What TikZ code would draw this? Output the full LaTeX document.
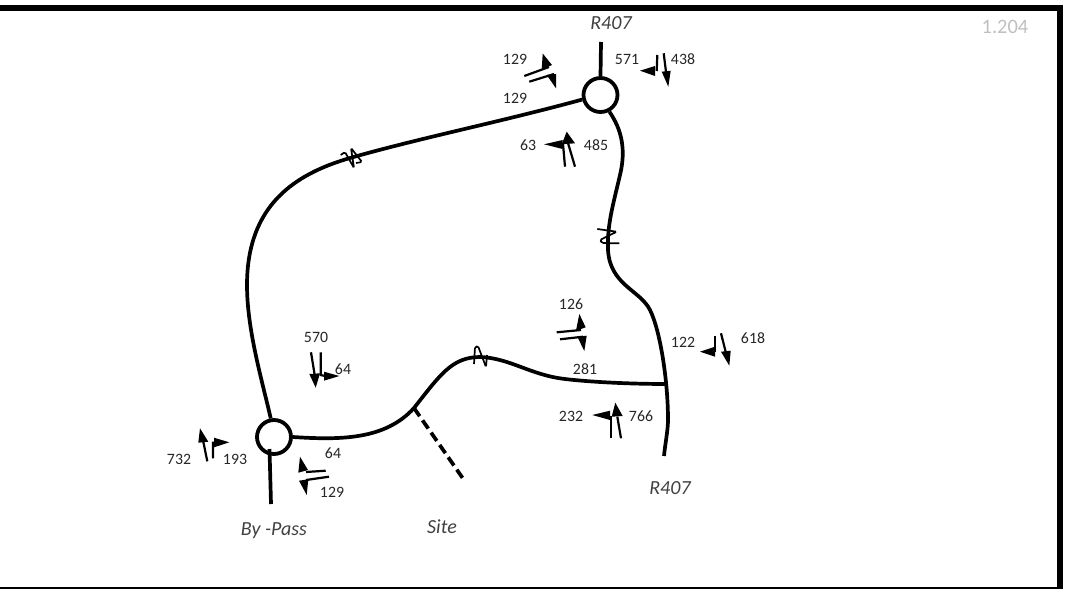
\documentclass[tikz,border=0pt]{standalone}
\usepackage{fontspec}
\setmainfont{Carlito}
\usepackage{tikz}

\tikzset{
    road/.style={line width=3.7pt},
    stub/.style={line width=3.7pt},
    shaft/.style={line width=2.2pt},
    brk/.style={line width=1.7pt, rounded corners=1.5pt},
    rabout/.style={draw, circle, line width=3.8pt, minimum size=34pt, inner sep=0pt},
    count/.style={font=\fontsize{15.8}{16}\selectfont, text=black!85, inner sep=0pt},
    place/.style={font=\fontsize{20}{20}\selectfont\itshape, text=black!75, inner sep=0pt}
}

\begin{document}
\begin{tikzpicture}[x=1pt,y=-1pt]
    \useasboundingbox (0,0) rectangle (1067,589);
    % frame
    \draw[line width=6pt] (0,8) -- (1063,8);
    \draw[line width=6pt] (1060,5) -- (1060,589);
    \draw[line width=2pt] (0,588) -- (1060,588);
    \node[font=\fontsize{20.5}{20}\selectfont, text=black!25, inner sep=0pt] (sheetno) at (1005,27) {1.204};

    % roundabouts and road ends
    \node[rabout] (rbtop) at (600.5,95) {};
    \node[rabout] (rbbot) at (274,437) {};
    \coordinate (northend) at (601,42);
    \coordinate (southend) at (664,456);
    \coordinate (bypassin) at (269.5,449);
    \coordinate (bypassend) at (271,504);
    \coordinate (sitein) at (414,408);
    \coordinate (siteend) at (464,480);
    \coordinate (tee) at (667,384);

    % roads
    \draw[stub] (rbtop.north) -- (northend);
    \draw[stub] (bypassin) -- (bypassend);
    \draw[road] (rbtop.194) .. controls (500,122) and (420,138) .. (350,158)
        .. controls (295,174) and (247,205) .. (247,285)
        .. controls (247,330) and (262,380) .. (rbbot.100);
    \draw[road] (rbtop.-62) .. controls (622,130) and (626,150) .. (620,175)
        .. controls (613,205) and (607,225) .. (608,250)
        .. controls (610,285) and (640,290) .. (650,310)
        .. controls (660,330) and (668,380) .. (668,420)
        .. controls (668,430) and (665,445) .. (southend);
    \draw[road] (rbbot.east) .. controls (340,440) and (385,440) .. (sitein)
        .. controls (440,375) and (452,357) .. (480,357)
        .. controls (510,358) and (530,375) .. (565,379)
        .. controls (590,382) and (630,384) .. (tee);
    \draw[road, dash pattern=on 10pt off 5pt] (sitein) -- (siteend);

    % road breaks
    \draw[brk] (340.7,155) -- (345,152) -- (354,168) -- (351,148) -- (362,162) -- (356,163);
    \draw[brk] (597.3,229) -- (616.7,231.7) -- (600,240) -- (602,243) -- (619.3,243.3);
    \draw[brk] (474,364) -- (475,347) -- (478,346) -- (486,367) -- (487,355);

    % turning flows, top roundabout
    \draw[shaft] (524.3,76) -- (549,67);
    \fill (542.7,53.5) -- (552,65) -- (541.7,69.5) -- cycle;
    \draw[shaft] (529.3,81.7) -- (554,74);
    \fill (546.7,75) -- (556,74) -- (556,88.3) -- cycle;
    \draw[shaft] (657.3,55) -- (656.7,71);
    \fill (640,70.7) -- (655,66) -- (655,76) -- cycle;
    \draw[shaft] (663.7,53.3) -- (666,72);
    \fill (661.7,71.7) -- (670.7,70.7) -- (668.3,86.7) -- cycle;
    \draw[shaft] (575,166.7) -- (568,143);
    \fill (566.7,131.7) -- (561.7,144.3) -- (575,143.3) -- cycle;
    \draw[shaft] (565,166.7) -- (563,144);
    \fill (544,144.3) -- (562.7,140) -- (562.7,149) -- cycle;

    % turning flows, bottom roundabout
    \draw[shaft] (311,352.3) -- (314.7,375);
    \fill (309.3,374) -- (320,373.3) -- (315.7,387.7) -- cycle;
    \draw[shaft] (320.7,352.3) -- (320.7,375) -- (325,376);
    \fill (324,371.7) -- (324,380.7) -- (339.3,376) -- cycle;
    \draw[shaft] (207.3,461.3) -- (203.3,441.7);
    \fill (200,428.3) -- (198.3,442.7) -- (208.3,441.7) -- cycle;
    \draw[shaft] (213,458.3) -- (213,442.7) -- (215,442.5);
    \fill (214,437.7) -- (214,447.3) -- (229.3,442.3) -- cycle;
    \draw[shaft] (325.7,470.7) -- (306,472);
    \fill (300,456.7) -- (298.3,472.7) -- (308,470) -- cycle;
    \draw[shaft] (329,476.7) -- (306,480);
    \fill (299,480.7) -- (308.3,479.3) -- (306.7,495) -- cycle;

    % turning flows, tee
    \draw[shaft] (556.7,332.3) -- (581,330);
    \fill (579.3,314) -- (585.7,327.3) -- (576,330.7) -- cycle;
    \draw[shaft] (560,339.3) -- (583,336.7);
    \fill (577.3,336.7) -- (586.7,335.7) -- (584.3,351) -- cycle;
    \draw[shaft] (715.3,335.7) -- (715.3,352);
    \fill (700,351.7) -- (715,346.7) -- (715,356.7) -- cycle;
    \draw[shaft] (721,333.3) -- (725.7,352);
    \fill (721,351.7) -- (730.7,350.7) -- (729.3,365.7) -- cycle;
    \draw[shaft] (610.7,438.3) -- (610.7,416);
    \fill (592.3,415) -- (610,410.7) -- (610,420) -- cycle;
    \draw[shaft] (621,438.3) -- (617.3,416.7);
    \fill (615.3,402.7) -- (611.7,416.7) -- (622.7,416) -- cycle;

    % counts
    \node[count] (ntopa) at (515,59) {129};
    \node[count] (ntopb) at (515,98) {129};
    \node[count] (ntopc) at (627,59) {571};
    \node[count] (ntopd) at (683,59) {438};
    \node[count] (ntope) at (528,145) {63};
    \node[count] (ntopf) at (596,145) {485};
    \node[count] (nbota) at (316,337) {570};
    \node[count] (nbotb) at (343,369) {64};
    \node[count] (nbotc) at (179,459) {732};
    \node[count] (nbotd) at (235,459) {193};
    \node[count] (nbote) at (333,453) {64};
    \node[count] (nbotf) at (332,492) {129};
    \node[count] (nteea) at (571,304) {126};
    \node[count] (nteeb) at (585,369) {281};
    \node[count] (nteec) at (683,342) {122};
    \node[count] (nteed) at (753,338) {618};
    \node[count] (nteee) at (571,416) {232};
    \node[count] (nteef) at (641,416) {766};

    % place names
    \node[place] (northname) at (611,23) {R407};
    \node[place] (southname) at (670,488) {R407};
    \node[place] (bypassname) at (274,531) {By -Pass};
    \node[place] (sitename) at (442,527) {Site};
\end{tikzpicture}
\end{document}
